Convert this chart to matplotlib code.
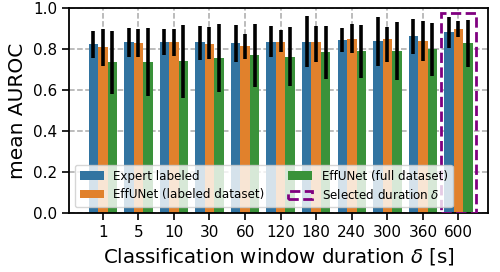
import numpy as np
import matplotlib
matplotlib.use("Agg")
import matplotlib.pyplot as plt
from matplotlib.patches import Rectangle

durations = ["1", "5", "10", "30", "60", "120", "180", "240", "300", "360", "600"]

# mean AUROC per window duration
expert = [0.826, 0.834, 0.836, 0.834, 0.831, 0.837, 0.837, 0.847, 0.840, 0.865, 0.883]
eff_labeled = [0.811, 0.831, 0.834, 0.826, 0.815, 0.837, 0.837, 0.850, 0.850, 0.842, 0.899]
eff_full = [0.737, 0.738, 0.743, 0.756, 0.772, 0.762, 0.787, 0.790, 0.792, 0.800, 0.831]

# error bar ends (low, high)
expert_lo = [0.760, 0.761, 0.771, 0.749, 0.740, 0.761, 0.714, 0.789, 0.719, 0.777, 0.805]
expert_hi = [0.890, 0.904, 0.902, 0.915, 0.917, 0.912, 0.962, 0.904, 0.959, 0.948, 0.958]
labeled_lo = [0.720, 0.764, 0.767, 0.751, 0.754, 0.785, 0.738, 0.782, 0.738, 0.744, 0.861]
labeled_hi = [0.900, 0.899, 0.898, 0.910, 0.876, 0.893, 0.915, 0.922, 0.910, 0.941, 0.937]
full_lo = [0.580, 0.572, 0.564, 0.592, 0.618, 0.620, 0.657, 0.660, 0.649, 0.671, 0.715]
full_hi = [0.890, 0.904, 0.917, 0.922, 0.925, 0.909, 0.915, 0.920, 0.933, 0.930, 0.943]

selected = 10  # index of the 600 s window

fig, ax = plt.subplots(figsize=(5, 2.72), dpi=100)
fig.subplots_adjust(left=0.138, right=0.976, top=0.969, bottom=0.216)

x = np.arange(len(durations))
w = 0.8 / 3
series = [
    (expert, expert_lo, expert_hi, "#3274a1", "Expert labeled"),
    (eff_labeled, labeled_lo, labeled_hi, "#e1812c", "EffUNet (labeled dataset)"),
    (eff_full, full_lo, full_hi, "#3a923a", "EffUNet (full dataset)"),
]
handles = []
for k, (vals, lo, hi, col, lab) in enumerate(series):
    vals = np.array(vals)
    yerr = [vals - np.array(lo), np.array(hi) - vals]
    b = ax.bar(x + (k - 1) * w, vals, w, color=col, label=lab, yerr=yerr,
               error_kw=dict(ecolor="black", elinewidth=2.6, capsize=0), zorder=2)
    handles.append(b)

rect = Rectangle((selected - 0.5, 0), 1, 0.98, fill=False, edgecolor="purple",
                 linestyle="--", linewidth=2, zorder=3, label=r"Selected duration $\delta$")
ax.add_patch(rect)
handles.append(rect)

ax.set_xticks(x)
ax.set_xticklabels(durations)
ax.set_xlim(-0.95, 10.83)
ax.set_ylim(0, 1.0)
ax.set_yticks([0.0, 0.2, 0.4, 0.6, 0.8, 1.0])
ax.grid(True, linestyle="--", color="#aaaaaa", linewidth=1.1, zorder=0)
ax.set_axisbelow(True)
ax.tick_params(labelsize=11, width=1.2, length=5)
for s in ax.spines.values():
    s.set_linewidth(1.3)

ax.set_xlabel(r"Classification window duration $\delta$ [s]", fontsize=14.2)
ax.set_ylabel("mean AUROC", fontsize=14.5)

ax.legend(handles=handles, loc="lower left", ncol=2, fontsize=8.6, framealpha=0.8)

fig.savefig("out.png", dpi=100)
